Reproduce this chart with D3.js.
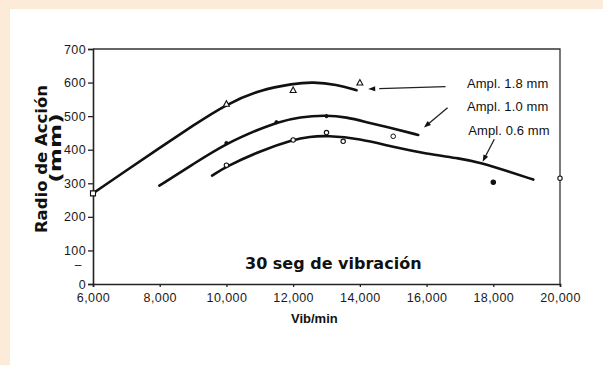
<!DOCTYPE html>
<html>
<head>
<meta charset="utf-8">
<script src="https://cdn.jsdelivr.net/npm/d3@7"></script>
<style>
  html, body { margin: 0; padding: 0; background: #ffffff; overflow: hidden; }
  svg { display: block; }
</style>
</head>
<body>
<svg width="603" height="365"></svg>
<script>
// curve nodes [vib/min, mm]
const curve18 = [[6000, 270], [7000, 338], [8000, 406], [9000, 472], [10000, 536], [11000, 578],
  [12000, 597], [12600, 602], [13300, 594], [13900, 577]];
const curve10 = [[7990, 293], [9000, 357], [10000, 419], [11000, 462], [11500, 481], [12200, 498],
  [13000, 503], [13600, 497], [14200, 482], [15000, 463], [15750, 444]];
const curve06 = [[9570, 323], [10000, 350], [11000, 396], [12000, 430], [12500, 439], [13000, 442],
  [14000, 433], [15000, 408], [16000, 388], [17000, 374], [17650, 361], [18400, 337], [19200, 311]];

// measured points
const pts18 = [[6000, 270], [10000, 537], [12000, 578], [14000, 600]];
const pts10 = [[10000, 420], [11500, 482], [13000, 500], [15000, 440]];
const pts06 = [[10000, 354], [12000, 429], [13000, 451], [13500, 425], [18000, 303], [20000, 315]];

const xTicks = [6000, 8000, 10000, 12000, 14000, 16000, 18000, 20000];
const yTicks = [0, 100, 200, 300, 400, 500, 600, 700];

const labels = ['Ampl. 1.8 mm', 'Ampl. 1.0 mm', 'Ampl. 0.6 mm'];
// label anchor and arrow tail -> tip, in data units
const labelPos = [[17210, 584], [17210, 515], [17250, 445]];
const arrows = [
  [[16570, 588], [14250, 581]],
  [[16630, 525], [15920, 466]],
  [[18030, 431], [17680, 364]]
];

const svg = d3.select('svg');

svg.append('rect')
  .attr('width', 603).attr('height', 365)
  .attr('fill', '#ffffff');

// peach border strips
svg.append('rect')
  .attr('x', 0).attr('y', 0)
  .attr('width', 603).attr('height', 9)
  .attr('fill', '#fdebd9');
svg.append('rect')
  .attr('x', 0).attr('y', 0)
  .attr('width', 10).attr('height', 365)
  .attr('fill', '#fdebd9');

const x = d3.scaleLinear().domain([6000, 20000]).range([93, 560]);
const y = d3.scaleLinear().domain([0, 700]).range([284, 49]);

// frame
svg.append('path')
  .attr('d', `M${x(6000)},${y(700)}H${x(20000)}V${y(0)}`)
  .attr('fill', 'none')
  .attr('stroke', '#333')
  .attr('stroke-width', 1.3);

const yAxis = svg.append('g')
  .attr('transform', `translate(${x(6000)},0)`)
  .call(d3.axisLeft(y).tickValues(yTicks).tickSize(5).tickPadding(2));

const xAxis = svg.append('g')
  .attr('transform', `translate(0,${y(0)})`)
  .call(d3.axisBottom(x).tickValues(xTicks).tickFormat(d3.format(',')).tickSize(3).tickPadding(6));

[yAxis, xAxis].forEach(function (g) {
  g.select('.domain').attr('stroke', '#222').attr('stroke-width', 1.6);
  g.selectAll('.tick line').attr('stroke', '#222').attr('stroke-width', 1.3);
  g.selectAll('.tick text')
    .attr('fill', '#1a1a1a')
    .style('font-family', '"Liberation Sans", Arial, sans-serif')
    .style('font-size', '12.5px')
    .style('letter-spacing', '0.4px');
});

// stray dash under 100
svg.append('text')
  .attr('x', 78)
  .attr('y', y(57) + 4)
  .attr('text-anchor', 'middle')
  .attr('fill', '#222')
  .style('font-family', '"Liberation Sans", Arial, sans-serif')
  .style('font-size', '12px')
  .text('–');

// curves
const line = d3.line()
  .x((d) => x(d[0]))
  .y((d) => y(d[1]))
  .curve(d3.curveBasis);

[curve18, curve10, curve06].forEach(function (c) {
  svg.append('path')
    .attr('d', line(c))
    .attr('fill', 'none')
    .attr('stroke', '#111')
    .attr('stroke-width', 2.6)
    .attr('stroke-linecap', 'round');
});

// markers
svg.selectAll('.tri')
  .data(pts18)
  .enter()
  .append('path')
  .attr('class', 'tri')
  .attr('transform', (d) => `translate(${x(d[0])},${y(d[1])})`)
  .attr('d', (d, i) => i === 0 ? 'M-2.5,-2.5H2.5V2.5H-2.5Z' : 'M0,-3L3,2.5H-3Z')
  .attr('fill', '#fff')
  .attr('stroke', '#111')
  .attr('stroke-width', 1.1);

svg.selectAll('.dot10')
  .data(pts10)
  .enter()
  .append('circle')
  .attr('class', 'dot10')
  .attr('cx', (d) => x(d[0]))
  .attr('cy', (d) => y(d[1]))
  .attr('r', (d, i) => i === 3 ? 2.3 : 1.6)
  .attr('fill', (d, i) => i === 3 ? '#fff' : '#111')
  .attr('stroke', '#111')
  .attr('stroke-width', 1);

svg.selectAll('.dot06')
  .data(pts06)
  .enter()
  .append('circle')
  .attr('class', 'dot06')
  .attr('cx', (d) => x(d[0]))
  .attr('cy', (d) => y(d[1]))
  .attr('r', 2.2)
  .attr('fill', (d) => d[0] === 18000 ? '#111' : '#fff')
  .attr('stroke', '#111')
  .attr('stroke-width', 1.1);

// labels and arrows
labels.forEach(function (t, i) {
  svg.append('text')
    .attr('x', x(labelPos[i][0]))
    .attr('y', y(labelPos[i][1]))
    .attr('fill', '#111')
    .style('font-family', '"Liberation Sans", Arial, sans-serif')
    .style('font-size', '13px')
    .style('letter-spacing', '0.1px')
    .text(t);

  const a = arrows[i];
  const x1 = x(a[0][0]), y1 = y(a[0][1]);
  const x2 = x(a[1][0]), y2 = y(a[1][1]);
  const ang = Math.atan2(y2 - y1, x2 - x1);
  const len = 7, half = 2.6;
  const gap = i === 0 ? 11 : len - 1;
  const bx = x2 - len * Math.cos(ang), by = y2 - len * Math.sin(ang);

  svg.append('line')
    .attr('x1', x1)
    .attr('y1', y1)
    .attr('x2', x2 - gap * Math.cos(ang))
    .attr('y2', y2 - gap * Math.sin(ang))
    .attr('stroke', '#222')
    .attr('stroke-width', 1.3);

  svg.append('path')
    .attr('d', `M${x2},${y2}L${bx - half * Math.sin(ang)},${by + half * Math.cos(ang)}` +
      `L${bx + half * Math.sin(ang)},${by - half * Math.cos(ang)}Z`)
    .attr('fill', '#111');
});

svg.append('text')
  .attr('x', 245)
  .attr('y', 269)
  .attr('fill', '#111')
  .style('font-family', '"DejaVu Sans", sans-serif')
  .style('font-weight', 'bold')
  .style('font-size', '16px')
  .text('30 seg de vibración');

svg.append('text')
  .attr('x', 291)
  .attr('y', 323)
  .attr('fill', '#111')
  .style('font-family', '"Liberation Sans", Arial, sans-serif')
  .style('font-weight', 'bold')
  .style('font-size', '13px')
  .text('Vib/min');

svg.append('text')
  .attr('transform', 'translate(47,159) rotate(-90)')
  .attr('text-anchor', 'middle')
  .attr('fill', '#111')
  .style('font-family', '"DejaVu Sans", sans-serif')
  .style('font-weight', 'bold')
  .style('font-size', '16.5px')
  .text('Radio de Acción');

svg.append('text')
  .attr('transform', 'translate(61,148) rotate(-90) scale(1.45,1)')
  .attr('text-anchor', 'middle')
  .attr('fill', '#111')
  .style('font-family', '"DejaVu Sans", sans-serif')
  .style('font-weight', 'bold')
  .style('font-size', '16px')
  .text('(mm)');
</script>
</body>
</html>
